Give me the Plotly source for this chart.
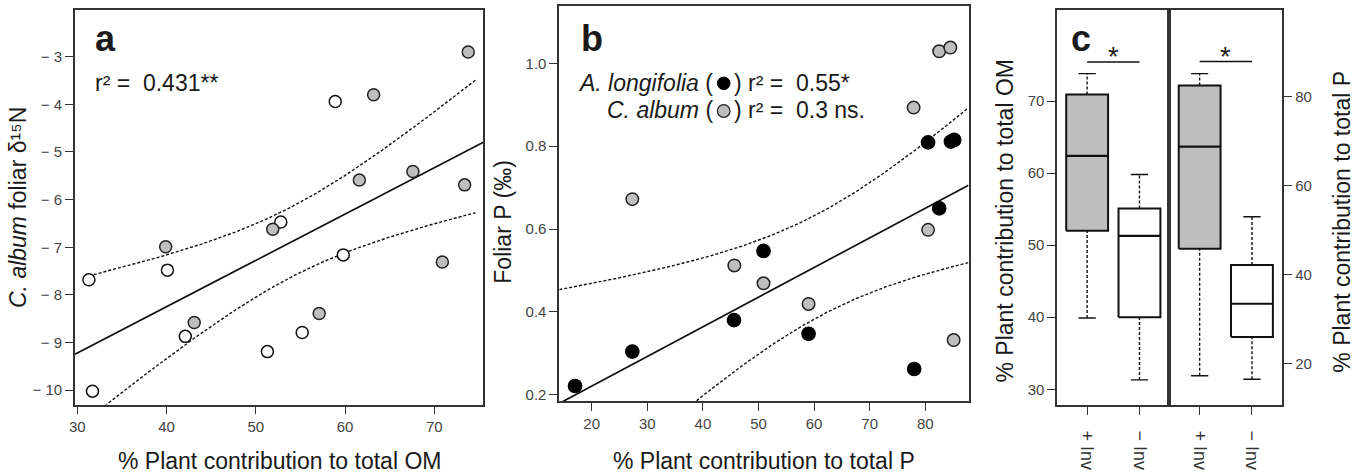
import math
import numpy as np
import plotly.graph_objects as go

W, H = 1359, 474
FONT = "Liberation Sans, Arial, Helvetica, sans-serif"
TXT = "#1a1a1a"
AX = "#333333"
GRAY = "#bebebe"

# ---------------- data ----------------
# Panel a: % plant contribution to total OM vs C. album foliar d15N
a_open_x = [31.3, 31.7, 40.1, 42.1, 51.3, 52.8, 55.2, 58.9, 59.8]
a_open_y = [-7.68, -10.02, -7.48, -8.87, -9.19, -6.47, -8.79, -3.94, -7.16]
a_gray_x = [39.9, 43.1, 51.9, 57.1, 61.6, 63.2, 67.6, 70.9, 73.4, 73.8]
a_gray_y = [-6.99, -8.58, -6.62, -8.39, -5.59, -3.80, -5.41, -7.31, -5.69, -2.90]
a_xticks = [30, 40, 50, 60, 70]
a_yticks = [-10, -9, -8, -7, -6, -5, -4, -3]
a_yticktext = ["\u2212 10", "\u2212 9", "\u2212 8", "\u2212 7", "\u2212 6", "\u2212 5", "\u2212 4", "\u2212 3"]
a_r2 = "0.431**"

# Panel b: % plant contribution to total P vs foliar P
b_along_x = [17.0, 27.3, 45.6, 50.9, 59.0, 78.0, 80.5, 82.5, 84.6, 85.2]
b_along_y = [0.221, 0.304, 0.380, 0.547, 0.347, 0.262, 0.809, 0.650, 0.811, 0.815]
b_calb_x = [27.3, 45.65, 50.9, 59.0, 77.9, 80.5, 82.5, 84.5, 85.1]
b_calb_y = [0.672, 0.512, 0.469, 0.419, 0.893, 0.598, 1.029, 1.038, 0.332]
b_xticks = [20, 30, 40, 50, 60, 70, 80]
b_yticks = [0.2, 0.4, 0.6, 0.8, 1.0]
b_yticktext = ["0.2", "0.4", "0.6", "0.8", "1.0"]
b_r2_along = "0.55*"
b_r2_calb = "0.3 ns."

# Panel c: box plot statistics
c_groups = ["+ Inv", "\u2212 Inv"]
c_om_low = [39.9, 31.3]
c_om_q1 = [52.0, 40.0]
c_om_med = [62.4, 51.3]
c_om_q3 = [70.9, 55.1]
c_om_high = [73.8, 59.8]
c_p_low = [17.2, 16.4]
c_p_q1 = [45.8, 25.9]
c_p_med = [68.75, 33.4]
c_p_q3 = [82.5, 42.1]
c_p_high = [85.2, 53.0]
c_om_ticks = [30, 40, 50, 60, 70]
c_p_ticks = [20, 40, 60, 80]
c_sig = "*"
c_sig_om_y = 75.4
c_sig_p_y = 87.9

# ---------------- helpers ----------------
def t_ppf(p, df):
    c = math.gamma((df + 1) / 2) / (math.sqrt(df * math.pi) * math.gamma(df / 2))
    def cdf(t):
        xs = np.linspace(0, t, 4001)
        return 0.5 + np.trapezoid(c * (1 + xs ** 2 / df) ** (-(df + 1) / 2), xs)
    lo, hi = 0.0, 20.0
    for _ in range(60):
        mid = (lo + hi) / 2
        if cdf(mid) < p:
            lo = mid
        else:
            hi = mid
    return (lo + hi) / 2


def linfit(x, y):
    x = np.asarray(x, float)
    y = np.asarray(y, float)
    n = len(x)
    xb, yb = x.mean(), y.mean()
    sxx = ((x - xb) ** 2).sum()
    sxy = ((x - xb) * (y - yb)).sum()
    b1 = sxy / sxx
    b0 = yb - b1 * xb
    s = math.sqrt(((y - b0 - b1 * x) ** 2).sum() / (n - 2))
    t = t_ppf(0.975, n - 2)

    def pred(g):
        return b0 + b1 * g

    def band(g):
        se = s * np.sqrt(1.0 / n + (g - xb) ** 2 / sxx)
        return pred(g) - t * se, pred(g) + t * se
    return pred, band


def px_x(px):
    return px / W


def px_y(py):
    return 1 - py / H


fig = go.Figure()

# ---------------- panel a ----------------
a_range_x = [29.74, 75.49]
a_all_x = a_open_x + a_gray_x
a_all_y = a_open_y + a_gray_y
pred_a, band_a = linfit(a_all_x, a_all_y)
g_line = np.linspace(a_range_x[0], a_range_x[1], 200)
g_band = np.linspace(min(a_all_x), max(a_all_x) + 0.8, 200)
lo_a, hi_a = band_a(g_band)
dotted = dict(color="#111", width=1.4, dash="3px,2px")
fig.add_trace(go.Scatter(x=g_band, y=hi_a, mode="lines", line=dotted, xaxis="x", yaxis="y"))
fig.add_trace(go.Scatter(x=g_band, y=lo_a, mode="lines", line=dotted, xaxis="x", yaxis="y"))
fig.add_trace(go.Scatter(x=g_line, y=pred_a(g_line), mode="lines",
                         line=dict(color="#111", width=1.7), xaxis="x", yaxis="y"))
fig.add_trace(go.Scatter(x=a_open_x, y=a_open_y, mode="markers", xaxis="x", yaxis="y",
                         marker=dict(size=12, color="white", line=dict(color="#111", width=1.5))))
fig.add_trace(go.Scatter(x=a_gray_x, y=a_gray_y, mode="markers", xaxis="x", yaxis="y",
                         marker=dict(size=12, color=GRAY, line=dict(color="#222", width=1.5))))

# ---------------- panel b ----------------
b_range_x = [14.17, 87.77]
pred_b, band_b = linfit(b_along_x, b_along_y)
gb = np.linspace(b_range_x[0], b_range_x[1], 200)
lo_b, hi_b = band_b(gb)
fig.add_trace(go.Scatter(x=gb, y=hi_b, mode="lines", line=dotted, xaxis="x2", yaxis="y2"))
fig.add_trace(go.Scatter(x=gb, y=lo_b, mode="lines", line=dotted, xaxis="x2", yaxis="y2"))
fig.add_trace(go.Scatter(x=gb, y=pred_b(gb), mode="lines",
                         line=dict(color="#111", width=1.7), xaxis="x2", yaxis="y2"))
fig.add_trace(go.Scatter(x=b_calb_x, y=b_calb_y, mode="markers", xaxis="x2", yaxis="y2",
                         marker=dict(size=12.5, color=GRAY, line=dict(color="#222", width=1.5))))
fig.add_trace(go.Scatter(x=b_along_x, y=b_along_y, mode="markers", xaxis="x2", yaxis="y2",
                         marker=dict(size=13.5, color="black", line=dict(color="black", width=1.2))))

# ---------------- panel c ----------------
fills = [GRAY, "white"]


def add_boxes(xa, ya, lows, q1s, meds, q3s, highs):
    half, cap = 0.4, 0.165
    for i in range(len(lows)):
        p = i + 1
        fig.add_trace(go.Scatter(x=[p, p, None, p, p], y=[lows[i], q1s[i], None, q3s[i], highs[i]],
                                 mode="lines", line=dict(color="#111", width=1.4, dash="3px,2px"),
                                 xaxis=xa, yaxis=ya))
        fig.add_trace(go.Scatter(x=[p - cap, p + cap, None, p - cap, p + cap],
                                 y=[lows[i], lows[i], None, highs[i], highs[i]],
                                 mode="lines", line=dict(color="#111", width=1.4), xaxis=xa, yaxis=ya))
        fig.add_trace(go.Scatter(x=[p - half, p + half, p + half, p - half, p - half],
                                 y=[q1s[i], q1s[i], q3s[i], q3s[i], q1s[i]],
                                 mode="lines", fill="toself", fillcolor=fills[i],
                                 line=dict(color="#111", width=2), xaxis=xa, yaxis=ya))
        fig.add_trace(go.Scatter(x=[p - half, p + half], y=[meds[i], meds[i]], mode="lines",
                                 line=dict(color="#111", width=2.2), xaxis=xa, yaxis=ya))


add_boxes("x3", "y3", c_om_low, c_om_q1, c_om_med, c_om_q3, c_om_high)
add_boxes("x4", "y4", c_p_low, c_p_q1, c_p_med, c_p_q3, c_p_high)

fig.update_traces(showlegend=False, hoverinfo="skip")

# ---------------- axes ----------------
tickfont = dict(family=FONT, size=15, color="#444")


def axis(**kw):
    d = dict(showline=True, linecolor=AX, linewidth=1.7, mirror=True, ticks="outside",
             ticklen=8, tickwidth=1.4, tickcolor=AX, showgrid=False, zeroline=False,
             tickfont=tickfont, automargin=False, fixedrange=True)
    d.update(kw)
    return d


ya_dom = [px_y(404.5), px_y(10)]
yb_dom = [px_y(401), px_y(6)]
yc_dom = [px_y(405), px_y(10)]
cx_font = dict(family=FONT, size=18, color="#333")

fig.update_layout(
    width=W, height=H, margin=dict(l=0, r=0, t=0, b=0),
    paper_bgcolor="white", plot_bgcolor="white", template="none",
    showlegend=False, font=dict(family=FONT, color=TXT),
    xaxis=axis(domain=[px_x(75), px_x(483.3)], anchor="y", range=a_range_x, tickvals=a_xticks),
    yaxis=axis(domain=ya_dom, anchor="x", range=[-10.30, -2.02], tickvals=a_yticks,
               ticktext=a_yticktext),
    xaxis2=axis(domain=[px_x(559.3), px_x(968.5)], anchor="y2", range=b_range_x, tickvals=b_xticks),
    yaxis2=axis(domain=yb_dom, anchor="x2", range=[0.1848, 1.1383], tickvals=b_yticks,
                ticktext=b_yticktext),
    xaxis3=axis(domain=[px_x(1057.3), px_x(1169.3)], anchor="y3", range=[0.43, 2.57],
                tickvals=[1, 2], ticktext=c_groups, tickangle=90, tickfont=cx_font,
                ticklabelstandoff=12),
    yaxis3=axis(domain=yc_dom, anchor="x3", range=[27.82, 82.63], tickvals=c_om_ticks),
    xaxis4=axis(domain=[px_x(1169.3), px_x(1282.3)], anchor="y4", range=[0.42, 2.58],
                tickvals=[1, 2], ticktext=c_groups, tickangle=90, tickfont=cx_font,
                ticklabelstandoff=12),
    yaxis4=axis(domain=yc_dom, anchor="x4", side="right", range=[10.62, 99.51], tickvals=c_p_ticks),
)

# ---------------- annotations ----------------
anns = []


def ann(text, px, py, size, xanchor="left", angle=0, xref="paper", xval=None):
    anns.append(dict(text=text, x=xval if xval is not None else px_x(px), y=px_y(py),
                     xref=xref, yref="paper", showarrow=False, xanchor=xanchor,
                     yanchor="middle", textangle=angle, borderpad=0,
                     font=dict(family=FONT, size=size, color=TXT)))


ann("<b>a</b>", 94, 38.5, 36)
ann("r\u00b2 =\u00a0 " + a_r2, 94, 83, 23)
ann("<b>b</b>", 580, 38.5, 36)
ann("<i>A. longifolia</i> (", 714, 82.6, 23, xanchor="right")
ann(") r\u00b2 =\u00a0 " + b_r2_along, 733, 82.6, 23)
ann("<i>C. album</i> (", 714, 110.3, 23, xanchor="right")
ann(") r\u00b2 =\u00a0 " + b_r2_calb, 733, 110.3, 23)
ann("<b>c</b>", 1070, 38.5, 36)
ann(c_sig, 0, 57, 27, xanchor="center", xref="x3", xval=1.5)
ann(c_sig, 0, 57, 27, xanchor="center", xref="x4", xval=1.5)

ann("% Plant contribution to total OM", 279, 461, 23, xanchor="center")
ann("% Plant contribution to total P", 764, 461, 23, xanchor="center")
ann("<i>C. album</i> foliar \u03b4\u00b9\u2075N", 17.5, 207.5, 23, xanchor="center", angle=-90)
ann("Foliar P (\u2030)", 503, 221.7, 23, xanchor="center", angle=-90)
ann("% Plant contribution to total OM", 1004.5, 221, 23, xanchor="center", angle=-90)
ann("% Plant contribution to total P", 1342, 221.7, 23, xanchor="center", angle=-90)

fig.update_layout(annotations=anns)

# significance lines and legend symbols
shapes = [
    dict(type="line", xref="x3", yref="y3", x0=1, x1=2, y0=c_sig_om_y, y1=c_sig_om_y,
         line=dict(color="#111", width=1.5)),
    dict(type="line", xref="x4", yref="y4", x0=1, x1=2, y0=c_sig_p_y, y1=c_sig_p_y,
         line=dict(color="#111", width=1.5)),
    dict(type="circle", xref="paper", yref="paper", x0=px_x(717.4), x1=px_x(730), y0=px_y(89.6),
         y1=px_y(77), fillcolor="black", line=dict(color="black", width=1)),
    dict(type="circle", xref="paper", yref="paper", x0=px_x(717.4), x1=px_x(730), y0=px_y(117.3),
         y1=px_y(104.7), fillcolor=GRAY, line=dict(color="#222", width=1.2)),
]
fig.update_layout(shapes=shapes)

fig.write_html("out.html")
